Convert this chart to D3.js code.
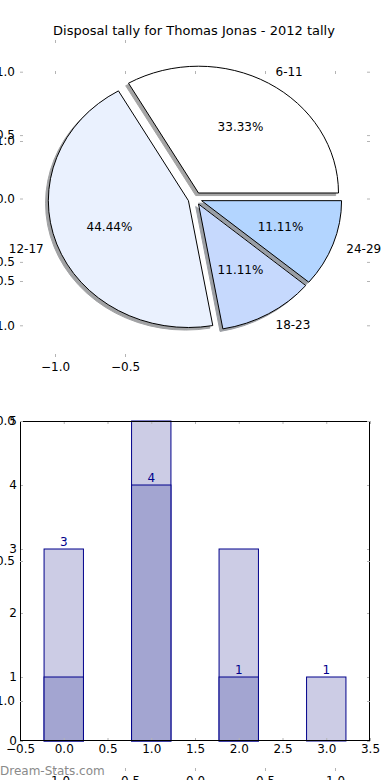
<!DOCTYPE html>
<html>
<head>
<meta charset="utf-8">
<script src="https://cdn.jsdelivr.net/npm/d3@7"></script>
<style>
  body { margin: 0; background: #fff; }
  svg { display: block; font-family: "DejaVu Sans", sans-serif; }
  .tick line { stroke: #b4b4b4; }
  .tick text { fill: #000; font-size: 12px; }
</style>
</head>
<body>
<div id="chart"></div>
<script>
// pie data
const categories = ['6-11', '12-17', '18-23', '24-29'];
const counts = [3, 4, 1, 1];

// bar data (two overlapping series)
const barPositions = [0, 1, 2, 3];
const lightValues = [3, 5, 3, 1];
const darkValues = [1, 4, 1, 0];
const barLabels = [3, 4, 1, 1];

// tick values
const pieXTicks = [-1.0, -0.5];
const pieYTicks = [-1.0, -0.5, 0.0, 0.5, 1.0];
const ghostTicks = [-1.0, -0.5, 0.0, 0.5, 1.0];
const barXTicks = [-0.5, 0.0, 0.5, 1.0, 1.5, 2.0, 2.5, 3.0, 3.5];
const barYTicks = [0, 1, 2, 3, 4, 5];

const title = 'Disposal tally for Thomas Jonas - 2012 tally';
const pieColors = ['#ffffff', '#eaf1fe', '#c6d9fd', '#b3d5ff'];
const explode = 0.05;

const w = 390, h = 780;
const svg = d3.select('#chart').append('svg')
    .attr('width', w)
    .attr('height', h);

const fmt1 = d3.format('.1f');

// draws gray inward ticks on four sides, labels on left and bottom
function drawTicks(x, y, xTicks, yTicks, xFmt, yFmt, pad) {
    const [x0, x1] = x.range();
    const [y0, y1] = y.range(); // y0 bottom, y1 top
    const g = svg.append('g');
    const axes = [
        [d3.axisBottom(x).tickValues(xTicks).tickFormat(xFmt), `translate(0,${y0})`],
        [d3.axisTop(x).tickValues(xTicks).tickFormat(''), `translate(0,${y1})`],
        [d3.axisLeft(y).tickValues(yTicks).tickFormat(yFmt), `translate(${x0},0)`],
        [d3.axisRight(y).tickValues(yTicks).tickFormat(''), `translate(${x1},0)`]
    ];
    axes.forEach(([ax, tr]) => {
        const a = g.append('g')
            .attr('transform', tr)
            .call(ax.tickSizeInner(-3).tickSizeOuter(0).tickPadding(pad))
            .attr('font-family', null)
            .attr('font-size', null);
        a.select('.domain').remove();
    });
    return g;
}

// shadow colour: 30% of the face colour
function shade(c) {
    const rgb = d3.rgb(c);
    return d3.rgb(rgb.r * 0.3, rgb.g * 0.3, rgb.b * 0.3).formatHex();
}

// ---- pie axes ----
const px = d3.scaleLinear().domain([-1.25, 1.25]).range([20, 370]);
const py = d3.scaleLinear().domain([-1.25, 1.25]).range([357, 40]);
const kx = px(1) - px(0);
const ky = py(0) - py(1);

drawTicks(px, py, pieXTicks, pieYTicks, fmt1, fmt1, 5);

const pie = d3.pie().value(d => d).sort(null);
const slices = pie(counts).map((d, i) => {
    const tm = (d.startAngle + d.endAngle) / 2;
    return {
        ...d, i, tm,
        cx: explode * Math.cos(tm),
        cy: explode * Math.sin(tm)
    };
});
const total = d3.sum(counts);

// d3 angles run clockwise from 12 o'clock, pie angles counter-clockwise from 3 o'clock
const arc = d3.arc()
    .innerRadius(0)
    .outerRadius(1)
    .startAngle(d => Math.PI / 2 - d.endAngle)
    .endAngle(d => Math.PI / 2 - d.startAngle);

// shadows below every wedge
svg.append('g').selectAll('path')
    .data(slices)
    .join('path')
    .attr('transform', d => `translate(${px(d.cx - 0.02)},${py(d.cy - 0.02)}) scale(${kx},${ky})`)
    .attr('d', arc)
    .attr('fill', d => shade(pieColors[d.i]))
    .attr('stroke', d => shade(pieColors[d.i]))
    .attr('vector-effect', 'non-scaling-stroke')
    .attr('opacity', 0.5);

svg.append('g').selectAll('path')
    .data(slices)
    .join('path')
    .attr('transform', d => `translate(${px(d.cx)},${py(d.cy)}) scale(${kx},${ky})`)
    .attr('d', arc)
    .attr('fill', d => pieColors[d.i])
    .attr('stroke', '#000')
    .attr('stroke-width', 1)
    .attr('vector-effect', 'non-scaling-stroke');

svg.append('g').selectAll('text')
    .data(slices)
    .join('text')
    .attr('x', d => px(d.cx + 1.1 * Math.cos(d.tm)))
    .attr('y', d => py(d.cy + 1.1 * Math.sin(d.tm)))
    .attr('dy', '0.35em')
    .attr('text-anchor', d => Math.cos(d.tm) > 0 ? 'start' : 'end')
    .attr('font-size', 12)
    .text(d => categories[d.i]);

svg.append('g').selectAll('text')
    .data(slices)
    .join('text')
    .attr('x', d => px(d.cx + 0.6 * Math.cos(d.tm)))
    .attr('y', d => py(d.cy + 0.6 * Math.sin(d.tm)))
    .attr('dy', '0.35em')
    .attr('text-anchor', 'middle')
    .attr('font-size', 12)
    .text(d => (d.value / total * 100).toFixed(2) + '%');

svg.append('text')
    .attr('x', 194)
    .attr('y', 30)
    .attr('dy', '0.35em')
    .attr('text-anchor', 'middle')
    .attr('font-size', 13)
    .text(title);

// ---- bar axes ----
const bx = d3.scaleLinear().domain([-0.5, 3.5]).range([20, 370]);
const by = d3.scaleLinear().domain([0, 5]).range([741, 421]);
const barW = 0.45;

svg.append('rect')
    .attr('x', 20).attr('y', 421)
    .attr('width', 350).attr('height', 320)
    .attr('fill', '#fff');

const bars = svg.append('g');
[[lightValues, '#cccce5'], [darkValues, '#a3a5d1']].forEach(([vals, fill]) => {
    bars.append('g').selectAll('rect')
        .data(vals)
        .join('rect')
        .attr('x', (d, i) => bx(barPositions[i] - barW / 2))
        .attr('y', d => by(d))
        .attr('width', bx(barW) - bx(0))
        .attr('height', d => by(0) - by(d))
        .attr('fill', fill)
        .attr('stroke', '#00008b')
        .attr('stroke-width', d => d > 0 ? 1 : 0);
});

svg.append('g').selectAll('text')
    .data(barLabels)
    .join('text')
    .attr('x', (d, i) => bx(barPositions[i]))
    .attr('y', d => by(d) - 3)
    .attr('text-anchor', 'middle')
    .attr('font-size', 12)
    .attr('fill', '#00008b')
    .text(d => d);

drawTicks(bx, by, barXTicks, barYTicks, fmt1, d3.format('d'), 3);

svg.append('rect')
    .attr('x', 20.5).attr('y', 421.5)
    .attr('width', 349).attr('height', 319)
    .attr('fill', 'none')
    .attr('stroke', '#000');

// ---- overlaid empty axes spanning both panels ----
const gx = d3.scaleLinear().domain([-1.25, 1.25]).range([20, 370]);
const gy = d3.scaleLinear().domain([-1.25, 1.25]).range([771, 71]);
drawTicks(gx, gy, ghostTicks, ghostTicks, fmt1, fmt1, 5);

svg.append('text')
    .attr('x', 0)
    .attr('y', 775)
    .attr('font-size', 12)
    .attr('fill', '#8a8a8a')
    .text('Dream-Stats.com');
</script>
</body>
</html>
